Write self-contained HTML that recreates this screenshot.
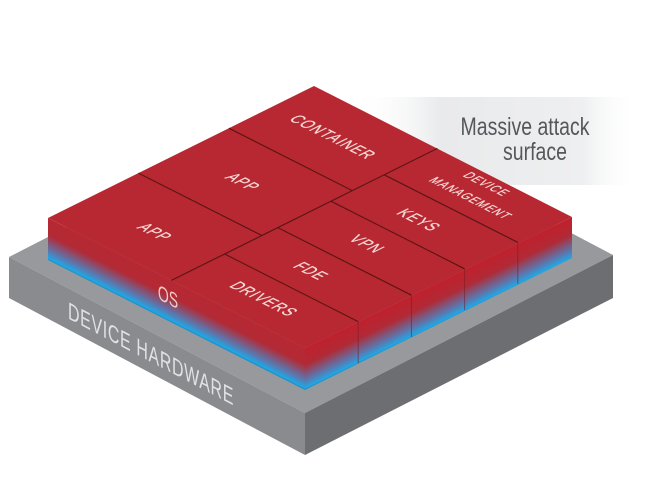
<!DOCTYPE html>
<html><head><meta charset="utf-8"><style>
html,body{margin:0;padding:0;background:#fff;width:660px;height:500px;overflow:hidden}
svg text{font-family:"Liberation Sans Narrow","Liberation Sans",sans-serif}
</style></head><body>
<svg width="660" height="500" viewBox="0 0 660 500" xmlns="http://www.w3.org/2000/svg">
<defs>
<linearGradient id="bg" x1="0" y1="0" x2="1" y2="0">
<stop offset="0" stop-color="#fff" stop-opacity="0"/>
<stop offset="0.3" stop-color="#e9eaeb"/>
<stop offset="0.8" stop-color="#eeeff0"/>
<stop offset="1" stop-color="#fff" stop-opacity="0"/>
</linearGradient>
<linearGradient id="lf" gradientUnits="userSpaceOnUse" x1="0" y1="193.7" x2="0" y2="235.7" gradientTransform="skewY(26.8)">
<stop offset="0" stop-color="#b72832"/>
<stop offset="0.4" stop-color="#b22a36"/>
<stop offset="0.78" stop-color="#5a78b0"/>
<stop offset="0.95" stop-color="#22a6e2"/>
<stop offset="1" stop-color="#1a8fc8"/>
</linearGradient>
<linearGradient id="rf" gradientUnits="userSpaceOnUse" x1="0" y1="497.5" x2="0" y2="539.5" gradientTransform="skewY(-26.1)">
<stop offset="0" stop-color="#c0202c"/>
<stop offset="0.4" stop-color="#b02a36"/>
<stop offset="0.78" stop-color="#5a78b0"/>
<stop offset="0.95" stop-color="#22a6e2"/>
<stop offset="1" stop-color="#1a8fc8"/>
</linearGradient>
</defs>
<rect x="355" y="97" width="285" height="88" fill="url(#bg)"/>
<text transform="translate(525,135) scale(0.78,1)" font-size="25" fill="#55575b" text-anchor="middle">Massive attack</text>
<text transform="translate(535,160) scale(0.78,1)" font-size="25" fill="#55575b" text-anchor="middle">surface</text>

<polygon points="9,257 317,99 613,255 305,413" fill="#98999d"/>
<polygon points="9,257 305,413 305,455 9,298" fill="#8a8b8f"/>
<polygon points="305,413 613,255 613,298 305,455" fill="#6d6e72"/>

<polygon points="48,218 314,86 572,217 305,348" fill="#b82832"/>
<polygon points="48,218 305,348 305,390 48,260" fill="url(#lf)"/>
<polygon points="305,348 572,217 572,258 305,390" fill="url(#rf)"/>

<g stroke="#5e1515" stroke-width="1.2" fill="none">
<line x1="171.4" y1="280.4" x2="437.4" y2="148.4"/>
<line x1="138.4" y1="173.1" x2="261.8" y2="235.5"/>
<line x1="228.9" y1="128.2" x2="352.3" y2="190.6"/>
<line x1="224.6" y1="254" x2="358.2" y2="321.6"/>
<line x1="277.8" y1="227.6" x2="411.4" y2="295.2"/>
<line x1="331" y1="201.2" x2="464.6" y2="268.8"/>
<line x1="384.2" y1="174.8" x2="517.8" y2="242.4"/>
</g>
<g stroke="#7a1c24" stroke-width="1" opacity="0.6">
<line x1="358.2" y1="321.6" x2="358.2" y2="363"/>
<line x1="411.4" y1="295.2" x2="411.4" y2="337"/>
<line x1="464.6" y1="268.8" x2="464.6" y2="310"/>
<line x1="517.8" y1="242.4" x2="517.8" y2="284"/>
</g>

<g fill="#f6d9d6" font-size="18" text-anchor="middle" letter-spacing="1.5" stroke="#f6d9d6" stroke-width="0.3">
<text transform="matrix(0.669,0.338,-0.896,0.444,333,137)" dy="6">CONTAINER</text>
<text transform="matrix(0.669,0.338,-0.896,0.444,243,182)" dy="6">APP</text>
<text transform="matrix(0.669,0.338,-0.896,0.444,155,232)" dy="6">APP</text>
<text transform="matrix(0.669,0.338,-0.896,0.444,264,299)" dy="6">DRIVERS</text>
<text transform="matrix(0.669,0.338,-0.896,0.444,311,271)" dy="6">FDE</text>
<text transform="matrix(0.669,0.338,-0.896,0.444,367,244)" dy="6">VPN</text>
<text transform="matrix(0.669,0.338,-0.896,0.444,419,220)" dy="6">KEYS</text>
<text transform="matrix(0.669,0.338,-0.896,0.444,487,184)" dy="5" font-size="14">DEVICE</text>
<text transform="matrix(0.669,0.338,-0.896,0.444,471,198)" dy="5" font-size="14">MANAGEMENT</text>
</g>
<text transform="matrix(0.669,0.338,0,1,168,304)" font-size="21" fill="#f4cbbf" text-anchor="middle">OS</text>
<text transform="matrix(0.664,0.349,0,1,151,362)" font-size="24" fill="#e2e2e4" text-anchor="middle" letter-spacing="1">DEVICE HARDWARE</text>
</svg>
</body></html>
